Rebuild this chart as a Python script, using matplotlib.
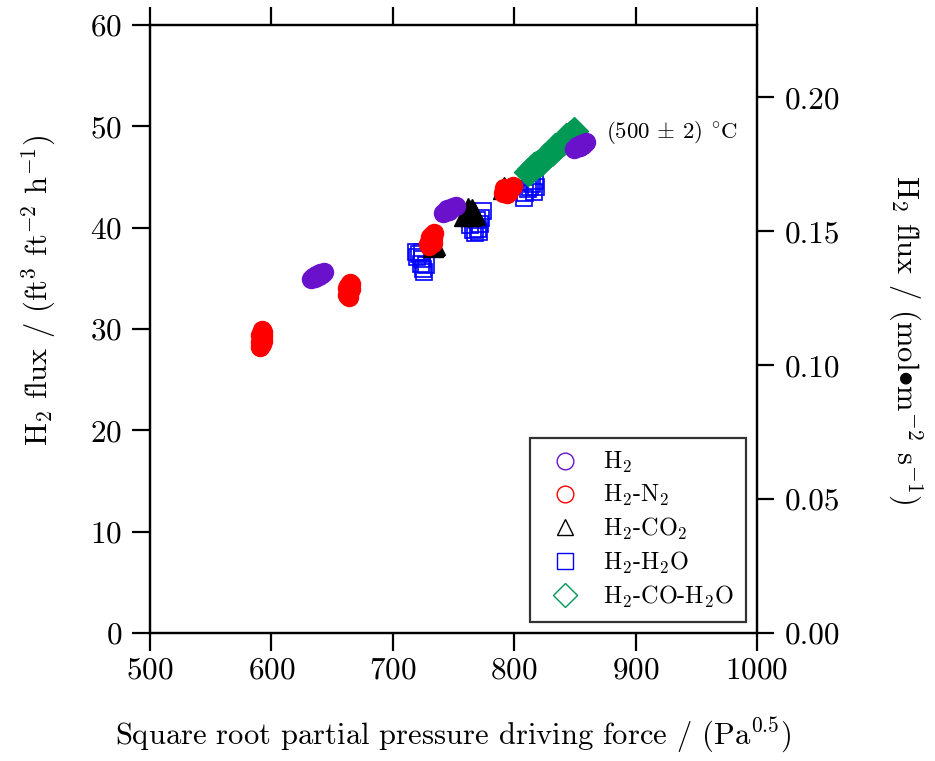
import matplotlib
matplotlib.use('Agg')
import matplotlib.pyplot as plt
from matplotlib.lines import Line2D
from matplotlib.ticker import FormatStrFormatter, MultipleLocator

plt.rcParams['font.family'] = 'cmr10'
plt.rcParams['mathtext.fontset'] = 'cm'
plt.rcParams['axes.formatter.use_mathtext'] = True

# square root partial pressure driving force (Pa^0.5) vs H2 flux (ft3 ft-2 h-1)
h2_x = [633, 634, 636, 637, 639, 640, 642, 643,
        741, 743, 745, 746, 748, 750, 752,
        849, 851, 852, 854, 855, 857, 859]
h2_y = [34.9, 35.1, 35.0, 35.3, 35.2, 35.5, 35.4, 35.6,
        41.4, 41.5, 41.8, 41.6, 41.9, 42.0, 42.1,
        47.8, 47.9, 48.1, 48.0, 48.3, 48.2, 48.5]

h2n2_x = [591, 592, 593, 592, 591, 593, 592, 591, 593,
          662, 664, 666, 663, 665, 664, 662, 666,
          729, 731, 733, 732, 734, 730, 731, 733,
          791, 793, 795, 797, 799, 794, 796, 792]
h2n2_y = [28.2, 28.5, 28.8, 29.1, 29.4, 29.7, 29.9, 28.7, 29.3,
          33.4, 33.7, 33.9, 34.2, 34.5, 33.2, 34.0, 34.4,
          38.4, 38.7, 39.0, 39.3, 39.5, 38.2, 39.1, 38.5,
          43.4, 43.6, 43.8, 43.9, 44.1, 43.3, 43.5, 43.9]

h2co2_x = [734, 735, 733,
           759, 761, 763, 765, 767, 768, 764, 762, 766,
           792, 791]
h2co2_y = [38.2, 38.3, 38.1,
           41.1, 41.4, 41.7, 41.8, 41.5, 41.2, 41.1, 41.9, 41.3,
           44.0, 43.8]

h2h2o_x = [719, 720, 722, 724, 723, 725, 726, 727, 724,
           764, 766, 768, 770, 772, 773, 774, 771, 769,
           808, 809, 811, 813, 815, 817, 818, 816]
h2h2o_y = [37.6, 37.1, 37.4, 36.9, 36.4, 35.9, 35.6, 36.3, 37.6,
           40.3, 39.8, 39.5, 39.9, 40.4, 41.0, 41.6, 39.6, 40.8,
           42.9, 43.4, 43.8, 44.0, 44.3, 44.6, 44.0, 43.5]

h2coh2o_x = [811, 813, 814, 816, 818, 820, 822, 823, 825, 827, 829, 831,
             832, 834, 836, 838, 840, 841, 843, 845, 847, 849]
h2coh2o_y = [45.5, 45.6, 45.8, 46.1, 46.2, 46.3, 46.5, 46.6, 47.0, 47.1, 47.3, 47.5,
             47.6, 48.0, 48.1, 48.3, 48.5, 48.6, 48.9, 49.0, 49.2, 49.5]

labels = [r'H$_2$', r'H$_2$-N$_2$', r'H$_2$-CO$_2$', r'H$_2$-H$_2$O', r'H$_2$-CO-H$_2$O']
colors = ['#6a11cc', '#ff0000', '#000000', '#0000ff', '#009a55']
markers = ['o', 'o', '^', 's', 'D']

ft_to_mol = 0.003782  # ft3 ft-2 h-1 -> mol m-2 s-1

fig = plt.figure(figsize=(9.35, 7.61), dpi=100)
ax = fig.add_axes([0.1604, 0.1682, 0.6492, 0.7990])

ax.plot(h2h2o_x, h2h2o_y, ls='none', marker='s', ms=11, mfc='none',
        mec=colors[3], mew=1.2, zorder=2)
ax.plot(h2coh2o_x, h2coh2o_y, ls='none', marker='D', ms=14, mfc=colors[4],
        mec=colors[4], zorder=3)
ax.plot(h2co2_x, h2co2_y, ls='none', marker='^', ms=14, mfc=colors[2],
        mec=colors[2], zorder=4)
ax.plot(h2n2_x, h2n2_y, ls='none', marker='o', ms=13, mfc=colors[1],
        mec=colors[1], zorder=5)
ax.plot(h2_x, h2_y, ls='none', marker='o', ms=13, mfc=colors[0],
        mec=colors[0], zorder=6)

ax.set_xlim(500, 1000)
ax.set_ylim(0, 60)
ax.xaxis.set_major_locator(MultipleLocator(100))
ax.yaxis.set_major_locator(MultipleLocator(10))
for s in ax.spines.values():
    s.set_linewidth(1.6)
ax.tick_params(axis='x', which='both', direction='out', length=13, width=1.6,
               top=True, labelsize=22.5, pad=4)
ax.tick_params(axis='y', direction='out', length=13, width=1.6,
               right=False, labelsize=22.5, pad=7)

ax2 = ax.twinx()
ax2.set_ylim(0, 60 * ft_to_mol)
ax2.yaxis.set_major_locator(MultipleLocator(0.05))
ax2.yaxis.set_major_formatter(FormatStrFormatter('%.2f'))
ax2.tick_params(axis='y', direction='out', length=12, width=1.6,
                labelsize=22.5, pad=8)
for s in ax2.spines.values():
    s.set_linewidth(1.6)

ax.text(875.5, 49.4, r'(500 $\pm$ 2) $^{\circ}$C', fontsize=16.5,
        ha='left', va='center')

handles = [Line2D([], [], ls='none', marker=m, ms=12, mfc='none', mec=c, mew=1.0)
           for m, c in zip(markers, colors)]
leg = ax.legend(handles, labels, loc='lower right', bbox_to_anchor=(0.982, 0.018),
                borderaxespad=0, fontsize=17.5, frameon=True, fancybox=False,
                handlelength=1.9, handletextpad=0.6, labelspacing=0.32,
                borderpad=0.5)
leg.get_frame().set_edgecolor('black')
leg.get_frame().set_linewidth(1.6)
leg.set_zorder(10)

ax.set_xlabel(r'Square root partial pressure driving force / (Pa$^{0.5}$)',
              fontsize=22, labelpad=22)
fig.text(0.041, 0.618, r'H$_2$ flux / (ft$^3$ ft$^{-2}$ h$^{-1}$)', fontsize=22,
         rotation=90, ha='center', va='center')
fig.text(0.968, 0.553, r'H$_2$ flux / (mol$\bullet$m$^{-2}$ s$^{-1}$)', fontsize=22,
         rotation=270, ha='center', va='center')

fig.savefig('out.png', dpi=100)
